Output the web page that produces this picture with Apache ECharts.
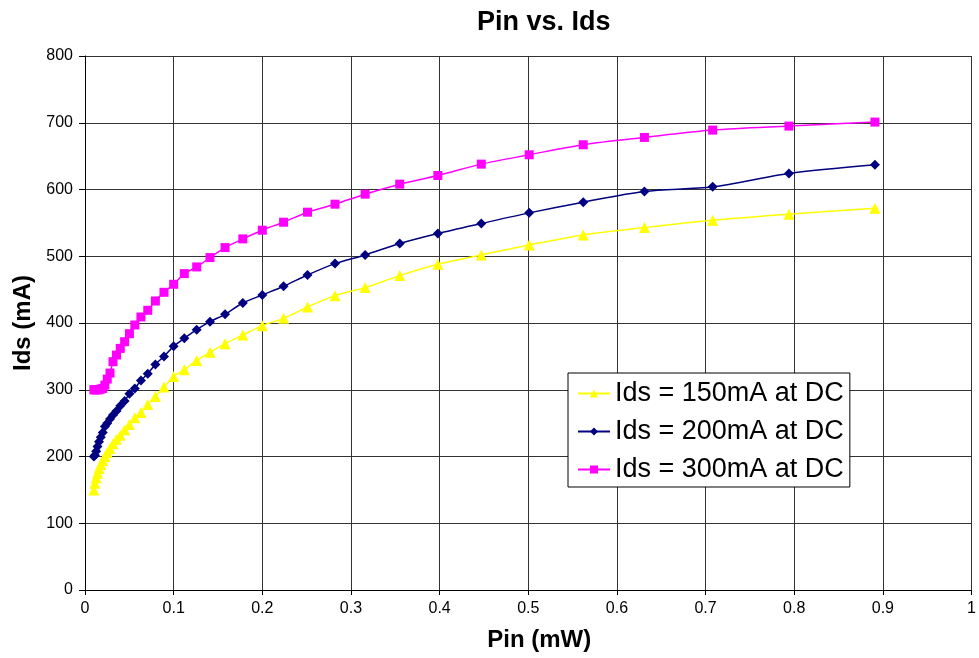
<!DOCTYPE html>
<html>
<head>
<meta charset="utf-8">
<script src="https://cdn.jsdelivr.net/npm/echarts@6/dist/echarts.min.js"></script>
<style>html,body{margin:0;padding:0;background:#fff}#c{width:979px;height:658px}</style>
</head>
<body>
<div id="c"></div>
<script>
const pin = [0.01,0.0112,0.0126,0.0141,0.0158,0.0178,0.02,0.0224,0.0251,0.0282,0.0316,0.0355,0.0398,0.0447,0.0501,0.0562,0.0631,0.0708,0.0794,0.0891,0.1,0.112,0.126,0.141,0.158,0.178,0.2,0.224,0.251,0.282,0.316,0.355,0.398,0.447,0.501,0.562,0.631,0.708,0.794,0.891];
const ids150 = [150,160,168,175,182,188,194,200,206,212,219,226,232,240,248,258,266,278,290,304,320,330,344,356,369,382,396,407,424,441,453,471,488,502,517,532,543,554,563,572];
const ids200 = [200,202,208,215,222,229,236,245,250,256,262,268,276,283,294,302,314,324,338,350,365,377,390,402,413,430,442,455,472,489,502,519,534,549,565,581,597,604,624,637];
const ids300 = [300,300,300,300,300,301,302,307,316,325,342,352,362,372,384,397,409,419,433,446,458,474,484,498,513,526,539,551,566,578,593,608,621,638,652,667,678,689,695,701];
const seriesNames = ['Ids = 150mA at DC','Ids = 200mA at DC','Ids = 300mA at DC'];
const FONT = '"Liberation Sans", Arial, sans-serif';

function pairs(ys){ return pin.map((x,i)=>[x, ys[i]]); }

const chart = echarts.init(document.getElementById('c'), null, {renderer:'canvas'});
chart.setOption({
  backgroundColor:'#fff',
  animation:false,
  title:{
    text:'Pin vs. Ids', left:472, top:4,
    textStyle:{fontFamily:FONT, fontSize:27, fontWeight:'bold', color:'#000'}
  },
  grid:{left:85, right:3, top:56, bottom:68, show:false},
  legend:{
    orient:'vertical', left:568, top:373,
    backgroundColor:'#fff', borderColor:'#000', borderWidth:1,
    padding:[7,6,4,9], itemWidth:32, itemHeight:10, itemGap:11,
    textStyle:{fontFamily:FONT, fontSize:27, color:'#000', lineHeight:26},
    data:seriesNames
  },
  xAxis:{
    type:'value', min:0, max:1, interval:0.1,
    name:'Pin (mW)', nameLocation:'middle', nameGap:38,
    nameTextStyle:{fontFamily:FONT, fontSize:24, fontWeight:'bold', color:'#000', padding:[0,0,0,22]},
    axisLine:{show:true, lineStyle:{color:'#000', width:1}},
    axisTick:{show:true, inside:false, length:5, lineStyle:{color:'#000'}},
    axisLabel:{fontFamily:FONT, fontSize:16, color:'#000', margin:11},
    splitLine:{show:true, lineStyle:{color:'#333', width:1}}
  },
  yAxis:{
    type:'value', min:0, max:800, interval:100,
    name:'Ids (mA)', nameLocation:'middle', nameGap:50,
    nameTextStyle:{fontFamily:FONT, fontSize:24, fontWeight:'bold', color:'#000'},
    axisLine:{show:true, lineStyle:{color:'#000', width:1}},
    axisTick:{show:true, inside:false, length:6, lineStyle:{color:'#000'}},
    axisLabel:{fontFamily:FONT, fontSize:16, color:'#000', margin:12},
    splitLine:{show:true, lineStyle:{color:'#333', width:1}}
  },
  series:[
    {name:seriesNames[0], type:'line', data:pairs(ids150), smooth:0.3,
     symbol:'triangle', symbolSize:11, showAllSymbol:true,
     itemStyle:{color:'#FFFF00'}, lineStyle:{color:'#FFFF00', width:1.5}},
    {name:seriesNames[1], type:'line', data:pairs(ids200), smooth:0.3,
     symbol:'diamond', symbolSize:10, showAllSymbol:true,
     itemStyle:{color:'#000080'}, lineStyle:{color:'#000080', width:1.5}},
    {name:seriesNames[2], type:'line', data:pairs(ids300), smooth:0.3,
     symbol:'rect', symbolSize:9, showAllSymbol:true,
     itemStyle:{color:'#FF00FF'}, lineStyle:{color:'#FF00FF', width:1.5}}
  ]
});
</script>
</body>
</html>
